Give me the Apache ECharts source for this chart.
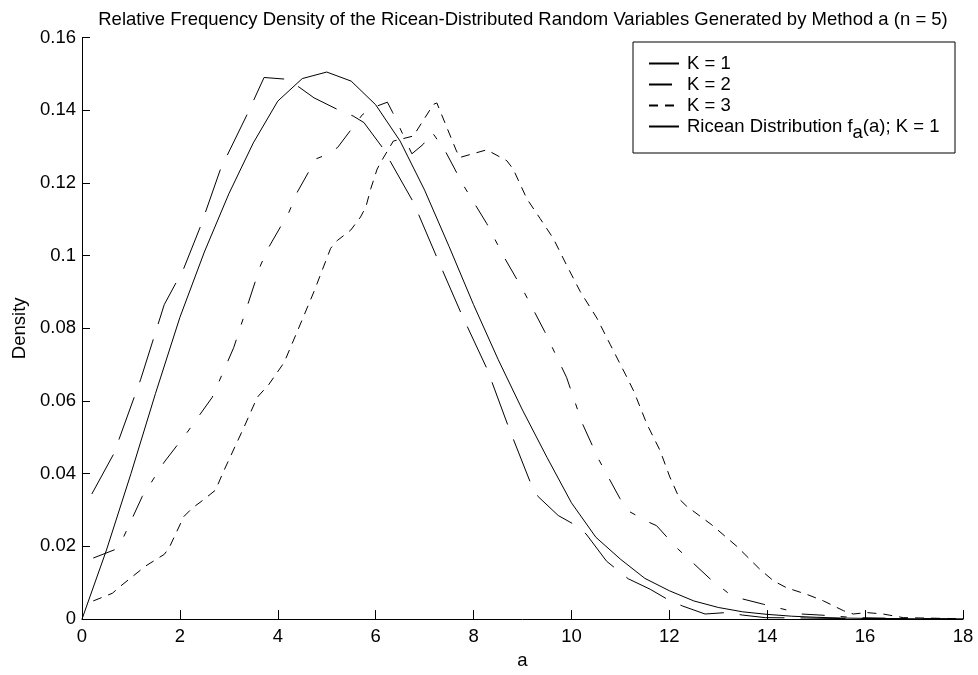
<!DOCTYPE html>
<html>
<head>
<meta charset="utf-8">
<script src="https://cdn.jsdelivr.net/npm/echarts@6/dist/echarts.min.js"></script>
<style>
  html, body { margin: 0; padding: 0; background: #fff; }
  #main { width: 978px; height: 675px; }
</style>
</head>
<body>
<div id="main"></div>
<script>
// 数据：[a, density]
var k1Points = [
    [0.2, 0.0344], [0.65, 0.0455], [1.2, 0.066], [1.68, 0.0865], [2.08, 0.0965], [2.42, 0.108],
    [2.83, 0.1238], [3.38, 0.139], [3.72, 0.149], [4.2, 0.1485], [4.43, 0.1464], [4.74, 0.1434],
    [5.25, 0.140], [5.54, 0.1384], [5.76, 0.1366], [6.14, 0.1297], [6.77, 0.1147], [7.26, 0.0992],
    [7.76, 0.0837], [8.28, 0.0687], [8.71, 0.053], [9.17, 0.0373], [9.32, 0.0337], [9.73, 0.0285],
    [10.06, 0.026], [10.3, 0.0234], [10.72, 0.0159], [11.16, 0.0111], [11.61, 0.0082], [11.98, 0.0053],
    [12.27, 0.0036], [12.73, 0.0014], [13.17, 0.0018], [13.5, 0.0011], [13.96, 0.0004], [14.8, 0.0003],
    [15.7, 0.0001], [16.6, 0.0001], [18, 0]
]
var k2Points = [
    [0.23, 0.0168], [0.67, 0.0191], [0.84, 0.0223], [1.23, 0.0337], [1.68, 0.0432], [2.15, 0.0514],
    [2.66, 0.061], [3.1, 0.0747], [3.65, 0.0974], [3.82, 0.1024], [4.23, 0.112], [4.4, 0.1175],
    [4.78, 0.1266], [4.91, 0.1273], [5.22, 0.1297], [5.73, 0.1388], [6.0, 0.141], [6.24, 0.1422],
    [6.35, 0.1393], [6.74, 0.128], [6.97, 0.1306], [7.15, 0.134], [7.42, 0.1288], [7.79, 0.1194],
    [8.27, 0.1088], [8.64, 0.0992], [9.02, 0.0903], [9.45, 0.0792], [9.9, 0.0665], [10.22, 0.0539],
    [10.55, 0.0441], [10.99, 0.0332], [11.18, 0.0296], [11.59, 0.0266], [11.74, 0.0257], [12.15, 0.0196],
    [12.48, 0.0155], [12.83, 0.0111], [13.19, 0.0073], [13.48, 0.0056], [13.92, 0.0041], [14.4, 0.0025],
    [14.7, 0.0014], [15.1, 0.0011], [15.8, 0.0004], [16.7, 0.0002], [18, 0]
]
var k3Points = [
    [0.23, 0.005], [0.62, 0.0071], [0.79, 0.0091], [1.3, 0.0146], [1.68, 0.0178], [1.78, 0.0196],
    [2.08, 0.0282], [2.25, 0.0305], [2.46, 0.0326], [2.73, 0.0355], [2.87, 0.04], [3.31, 0.0528],
    [3.58, 0.061], [3.82, 0.0646], [4.13, 0.0706], [4.4, 0.0792], [4.74, 0.0901], [5.08, 0.102],
    [5.22, 0.1042], [5.49, 0.107], [5.69, 0.1106], [5.8, 0.1134], [5.9, 0.1184], [6.03, 0.1238],
    [6.14, 0.1265], [6.36, 0.1315], [6.77, 0.1329], [7.18, 0.1416], [7.25, 0.142], [7.65, 0.1288],
    [7.72, 0.127], [8.27, 0.1291], [8.68, 0.1261], [8.81, 0.1238], [9.09, 0.1156], [9.36, 0.1102],
    [9.63, 0.1047], [9.9, 0.0974], [10.18, 0.0901], [10.52, 0.0828], [10.79, 0.0756], [11.1, 0.0674],
    [11.27, 0.0628], [11.54, 0.0537], [11.81, 0.0464], [12.01, 0.0391], [12.22, 0.0328], [12.35, 0.0311],
    [12.87, 0.0259], [13.38, 0.02], [13.85, 0.0137], [14.13, 0.0105], [14.4, 0.0086], [14.81, 0.0068],
    [15.15, 0.005], [15.56, 0.0023], [15.76, 0.0014], [16.03, 0.0018], [16.37, 0.0014], [16.78, 0.0004],
    [18, 0.0001]
]
var riceanX = [0, 0.5, 1, 1.5, 2, 2.5, 3, 3.5, 4, 4.5, 5, 5.5, 6, 6.5, 7, 7.5, 8, 8.5, 9,
    9.5, 10, 10.5, 11, 11.5, 12, 12.5, 13, 13.5, 14, 14.5, 15, 15.5, 16, 17, 18]
var riceanY = [0, 0.019, 0.040, 0.062, 0.083, 0.101, 0.117, 0.131, 0.1425, 0.1487, 0.1505, 0.148,
    0.1415, 0.1315, 0.118, 0.1025, 0.0865, 0.0715, 0.0575, 0.0445, 0.032, 0.0225, 0.0165, 0.0112,
    0.0078, 0.005, 0.0032, 0.002, 0.0013, 0.0008, 0.0005, 0.0003, 0.0002, 0.0001, 0]
var seriesNames = ['K = 1', 'K = 2', 'K = 3', 'Ricean Distribution']
var xTicks = { min: 0, max: 18, interval: 2 }
var yTicks = { min: 0, max: 0.16, interval: 0.02 }

var FONT = 'Liberation Sans, Arial, sans-serif'
var FS = 18.5
var textBase = { color: '#000', fontFamily: FONT, fontSize: FS }

initChart()

// 折线公用配置
function lineSeries (name, data, dash) {
    return {
        name: name,
        type: 'line',
        data: data,
        symbol: 'none',
        showSymbol: false,
        animation: false,
        itemStyle: { color: '#000' },
        lineStyle: { color: '#000', width: 1, type: dash }
    }
}

function initChart () {
    var myChart = echarts.init(document.getElementById('main'))
    var riceanData = riceanX.map(function (x, i) { return [x, riceanY[i]] })
    var option = {
        backgroundColor: '#fff',
        animation: false,
        title: {
            text: 'Relative Frequency Density of the Ricean-Distributed Random Variables Generated by Method a (n = 5)',
            left: 518,
            textAlign: 'center',
            top: 5,
            textStyle: { color: '#000', fontFamily: FONT, fontSize: FS, fontWeight: 'normal' }
        },
        grid: { left: 82, right: 15, top: 37.5, bottom: 46 },
        xAxis: {
            type: 'value',
            min: xTicks.min, max: xTicks.max, interval: xTicks.interval,
            name: 'a', nameLocation: 'middle', nameGap: 28,
            nameTextStyle: textBase,
            axisLine: { lineStyle: { color: '#000', width: 1 } },
            axisTick: { inside: true, length: 9, lineStyle: { color: '#000' } },
            axisLabel: { color: '#000', fontFamily: FONT, fontSize: FS, margin: 8 },
            splitLine: { show: false }
        },
        yAxis: {
            type: 'value',
            min: yTicks.min, max: yTicks.max, interval: yTicks.interval,
            name: 'Density', nameLocation: 'middle', nameGap: 53, nameRotate: 90,
            nameTextStyle: textBase,
            axisLine: { lineStyle: { color: '#000', width: 1 } },
            axisTick: { inside: true, length: 8, lineStyle: { color: '#000' } },
            axisLabel: { color: '#000', fontFamily: FONT, fontSize: FS, margin: 6 },
            splitLine: { show: false }
        },
        legend: {
            orient: 'vertical',
            left: 643,
            top: 49,
            itemWidth: 30,
            itemHeight: 12,
            itemGap: 2,
            data: seriesNames,
            z: 10,
            itemStyle: { opacity: 0 },
            formatter: function (name) {
                return name === 'Ricean Distribution' ? 'Ricean Distribution f{sub|a}(a); K = 1' : name
            },
            textStyle: {
                color: '#000', fontFamily: FONT, fontSize: FS, padding: [0, 0, 0, 3],
                rich: { sub: { fontSize: FS, padding: [12, 0, 0, 0], fontFamily: FONT, color: '#000' } }
            }
        },
        graphic: [{
            type: 'rect',
            z: 5,
            shape: { x: 633, y: 42, width: 322, height: 111 },
            style: { fill: '#fff', stroke: '#000', lineWidth: 1 }
        }],
        series: [
            lineSeries(seriesNames[0], k1Points, [45, 16]),
            lineSeries(seriesNames[1], k2Points, [23, 16, 6, 16]),
            lineSeries(seriesNames[2], k3Points, [9, 7]),
            lineSeries(seriesNames[3], riceanData, 'solid')
        ]
    }
    myChart.setOption(option)
}
</script>
</body>
</html>
